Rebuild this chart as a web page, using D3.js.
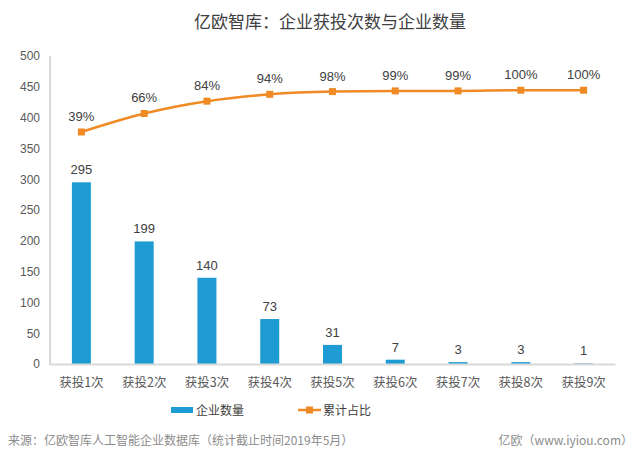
<!DOCTYPE html>
<html><head><meta charset="utf-8">
<script src="https://cdn.jsdelivr.net/npm/d3@7"></script>
<style>body{margin:0;background:#fff}svg{display:block}text{font-family:"Liberation Sans","Noto Sans CJK SC",sans-serif}</style>
</head><body><svg id="c" width="640" height="455"></svg>
<script>
const categories = ["获投1次","获投2次","获投3次","获投4次","获投5次","获投6次","获投7次","获投8次","获投9次"];
const counts = [295,199,140,73,31,7,3,3,1];
const cumShare = [0.39,0.66,0.84,0.94,0.98,0.99,0.99,1.00,1.00];
const cumLabels = ["39%","66%","84%","94%","98%","99%","99%","100%","100%"];
const yTicks = [0,50,100,150,200,250,300,350,400,450,500];

const svg = d3.select("#c");
const L=50, R=615, T=56, B=364;
const x = d3.scaleBand().domain(categories).range([L,R]).paddingInner(0.7).paddingOuter(0.35);
const xc = d3.scaleBand().domain(categories).range([L,R]);
const y = d3.scaleLinear().domain([0,500]).range([B,T]);
const y2 = d3.scaleLinear().domain([-3,1.5]).range([B,T]);
const cx = d => xc(d)+xc.bandwidth()/2;
const bw = 19;

svg.append("text").attr("x",330).attr("y",28).attr("text-anchor","middle")
  .attr("font-size",17).attr("fill","#404040").style("font-family","'Noto Sans CJK SC',sans-serif")
  .text("亿欧智库：企业获投次数与企业数量");

// y axis
const ya = svg.append("g").attr("transform",`translate(${L},0)`)
  .call(d3.axisLeft(y).tickValues(yTicks).tickSize(0).tickPadding(10));
ya.select(".domain").remove();
ya.selectAll("text").attr("font-size",12).attr("fill","#595959").style("font-family","'Liberation Sans',sans-serif");

// bars
svg.selectAll("rect.bar").data(counts).join("rect").attr("class","bar")
  .attr("x",(d,i)=>cx(categories[i])-bw/2).attr("width",bw)
  .attr("y",d=>y(d)).attr("height",d=>B-y(d)).attr("fill","#1f9bd4");

// axes lines
svg.append("line").attr("x1",L).attr("x2",L).attr("y1",T).attr("y2",B+1).attr("stroke","#d9d9d9").attr("stroke-width",2);
const xa = svg.append("g").attr("transform",`translate(0,${B})`)
  .call(d3.axisBottom(xc).tickSize(0).tickPadding(14));
xa.select(".domain").attr("stroke","#d9d9d9").attr("stroke-width",2);
xa.selectAll("text").attr("font-size",12.5).attr("fill","#595959").style("font-family","'Noto Sans CJK SC',sans-serif");

// bar labels
svg.selectAll("text.bl").data(counts).join("text").attr("class","bl")
  .attr("x",(d,i)=>cx(categories[i])).attr("y",d=>y(d)-8).attr("text-anchor","middle")
  .attr("font-size",13).attr("fill","#404040").text(d=>d);

// line
const line = d3.line().x((d,i)=>cx(categories[i])).y(d=>y2(d)).curve(d3.curveMonotoneX);
svg.append("path").datum(cumShare).attr("d",line).attr("fill","none").attr("stroke","#f08a24").attr("stroke-width",2.5);
svg.selectAll("rect.mk").data(cumShare).join("rect").attr("class","mk")
  .attr("x",(d,i)=>cx(categories[i])-3.5).attr("y",d=>y2(d)-3.5).attr("width",7).attr("height",7).attr("fill","#f08a24");
svg.selectAll("text.pl").data(cumShare).join("text").attr("class","pl")
  .attr("x",(d,i)=>cx(categories[i])).attr("y",d=>y2(d)-11).attr("text-anchor","middle")
  .attr("font-size",13).attr("fill","#404040").text((d,i)=>cumLabels[i]);

// legend
svg.append("rect").attr("x",171).attr("y",407).attr("width",22).attr("height",6).attr("fill","#1f9bd4");
svg.append("text").attr("x",196).attr("y",415).attr("font-size",12).attr("fill","#404040").style("font-family","'Noto Sans CJK SC',sans-serif").text("企业数量");
svg.append("line").attr("x1",298).attr("x2",321).attr("y1",410).attr("y2",410).attr("stroke","#f08a24").attr("stroke-width",2.5);
svg.append("rect").attr("x",306).attr("y",406.5).attr("width",7).attr("height",7).attr("fill","#f08a24");
svg.append("text").attr("x",323).attr("y",415).attr("font-size",12).attr("fill","#404040").style("font-family","'Noto Sans CJK SC',sans-serif").text("累计占比");

// footer
svg.append("text").attr("x",8).attr("y",445).attr("font-size",12).attr("fill","#8c8c8c").style("font-family","'Noto Sans CJK SC',sans-serif")
  .text("来源：亿欧智库人工智能企业数据库（统计截止时间2019年5月）");
svg.append("text").attr("x",633).attr("y",445).attr("text-anchor","end").attr("font-size",12).attr("fill","#8c8c8c").style("font-family","'Noto Sans CJK SC',sans-serif")
  .text("亿欧（www.iyiou.com）");
</script></body></html>
